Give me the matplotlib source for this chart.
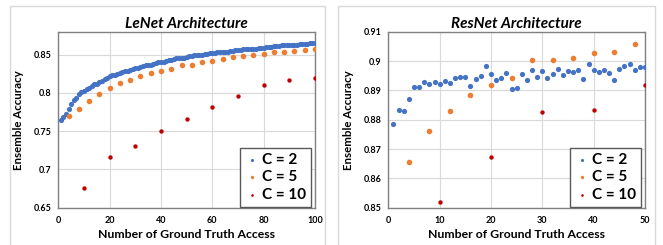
import numpy as np
import matplotlib.pyplot as plt
from matplotlib.patches import Rectangle

plt.rcParams['font.family'] = ['Lato', 'DejaVu Sans']

# LeNet data
lenet_x2 = list(range(1, 101))
lenet_c2 = [0.765, 0.768, 0.773, 0.779, 0.785, 0.791, 0.794, 0.798, 0.801, 0.803,
            0.805, 0.807, 0.809, 0.811, 0.812, 0.814, 0.816, 0.818, 0.820, 0.822,
            0.823, 0.824, 0.825, 0.826, 0.827, 0.828, 0.829, 0.830, 0.831, 0.832,
            0.833, 0.834, 0.835, 0.836, 0.837, 0.837, 0.838, 0.839, 0.840, 0.841,
            0.841, 0.842, 0.843, 0.843, 0.844, 0.845, 0.845, 0.846, 0.846, 0.847,
            0.848, 0.848, 0.849, 0.849, 0.850, 0.850, 0.851, 0.851, 0.852, 0.852,
            0.852, 0.853, 0.853, 0.854, 0.854, 0.854, 0.855, 0.855, 0.856, 0.856,
            0.856, 0.857, 0.857, 0.857, 0.858, 0.858, 0.858, 0.859, 0.859, 0.859,
            0.860, 0.860, 0.860, 0.861, 0.861, 0.861, 0.862, 0.862, 0.862, 0.862,
            0.863, 0.863, 0.863, 0.864, 0.864, 0.864, 0.864, 0.865, 0.865, 0.865]
lenet_x5 = list(range(4, 101, 4))
lenet_c5 = [0.770, 0.779, 0.789, 0.798, 0.8065, 0.8126, 0.817, 0.822, 0.826, 0.829,
            0.831, 0.836, 0.837, 0.840, 0.842, 0.844, 0.847, 0.848, 0.850, 0.851,
            0.853, 0.853, 0.855, 0.856, 0.858]
lenet_x10 = [10, 20, 30, 40, 50, 60, 70, 80, 90, 100]
lenet_c10 = [0.676, 0.7165, 0.730, 0.750, 0.766, 0.781, 0.7965, 0.810, 0.817, 0.820]

# ResNet data
resnet_x2 = list(range(1, 51))
resnet_c2 = [0.8785, 0.8833, 0.8831, 0.8872, 0.8910, 0.8911, 0.8930, 0.8922, 0.8927, 0.8923,
             0.8932, 0.8926, 0.8941, 0.8945, 0.8945, 0.8914, 0.8940, 0.8948, 0.8983, 0.8956,
             0.8935, 0.8943, 0.8958, 0.8905, 0.8909, 0.8956, 0.8934, 0.8970, 0.8945, 0.8965,
             0.8943, 0.8956, 0.8973, 0.8953, 0.8967, 0.8964, 0.8968, 0.8940, 0.8990, 0.8968,
             0.8964, 0.8968, 0.8960, 0.8935, 0.8972, 0.8982, 0.8989, 0.8968, 0.8980, 0.8978]
resnet_x5 = list(range(4, 49, 4))
resnet_c5 = [0.8656, 0.8760, 0.8831, 0.8885, 0.8919, 0.8943, 0.9005, 0.9002, 0.9011, 0.9028,
             0.9030, 0.9057]
resnet_x10 = [10, 20, 30, 40, 50]
resnet_c10 = [0.8520, 0.8672, 0.8826, 0.8833, 0.8918]

blue = '#4472C4'
orange = '#ED7D31'
red = '#C00000'

fig = plt.figure(figsize=(6.63, 2.45), dpi=100)

# chart area borders (bottom edge falls outside the image)
W, H = 663, 245
for x0, x1 in [(10, 325), (338, 655)]:
    fig.add_artist(Rectangle((x0 / W, -0.05), (x1 - x0) / W, 1 - 6 / H + 0.05,
                             transform=fig.transFigure, fill=False,
                             edgecolor='#D9D9D9', linewidth=1))


def make_panel(rect, title, xs, ys, xlim, xticks, ylim, yticks, ylabels):
    ax = fig.add_axes(rect)
    ax.scatter(xs[0], ys[0], s=14, color=blue, label='C = 2', zorder=3, linewidths=0)
    ax.scatter(xs[1], ys[1], s=16, color=orange, label='C = 5', zorder=3, linewidths=0)
    ax.scatter(xs[2], ys[2], s=10, color=red, label='C = 10', zorder=3, linewidths=0)
    ax.set_xlim(xlim)
    ax.set_ylim(ylim)
    ax.set_xticks(xticks)
    ax.set_yticks(yticks)
    ax.set_yticklabels(ylabels)
    ax.grid(True, color='#D9D9D9', linewidth=0.8)
    ax.set_axisbelow(True)
    for sp in ax.spines.values():
        sp.set_color('#808080')
        sp.set_linewidth(1)
    ax.tick_params(length=0, labelsize=6.5)
    ax.tick_params(axis='x', pad=6)
    ax.tick_params(axis='y', pad=5)
    for lab in ax.get_xticklabels() + ax.get_yticklabels():
        lab.set_fontweight('bold')
    ax.set_title(title, fontsize=11, fontweight='bold', fontstyle='italic', pad=3)
    ax.set_xlabel('Number of Ground Truth Access', fontsize=8.8, fontweight='bold', labelpad=3)
    ax.set_ylabel('Ensemble Accuracy', fontsize=8.3, fontweight='bold', labelpad=7)
    leg = ax.legend(loc='lower right', bbox_to_anchor=(0.985, 0.005), borderaxespad=0,
                    prop={'size': 11, 'weight': 'bold'}, markerscale=0.6,
                    handletextpad=0.2, handlelength=1.0, labelspacing=0.25,
                    fancybox=False, framealpha=1, borderpad=0.3)
    leg.get_frame().set_edgecolor('#595959')
    leg.get_frame().set_linewidth(1)
    return ax


make_panel([58.3 / W, 1 - 207.7 / H, 256.7 / W, 176 / H], 'LeNet Architecture',
           [lenet_x2, lenet_x5, lenet_x10], [lenet_c2, lenet_c5, lenet_c10],
           (0, 100), [0, 20, 40, 60, 80, 100], (0.65, 0.88),
           [0.65, 0.7, 0.75, 0.8, 0.85], ['0.65', '0.7', '0.75', '0.8', '0.85'])

make_panel([388.3 / W, 1 - 207.7 / H, 256.7 / W, 176 / H], 'ResNet Architecture',
           [resnet_x2, resnet_x5, resnet_x10], [resnet_c2, resnet_c5, resnet_c10],
           (0, 50), [0, 10, 20, 30, 40, 50], (0.85, 0.91),
           [0.85, 0.86, 0.87, 0.88, 0.89, 0.9, 0.91],
           ['0.85', '0.86', '0.87', '0.88', '0.89', '0.9', '0.91'])

fig.savefig('out.png', dpi=100)
